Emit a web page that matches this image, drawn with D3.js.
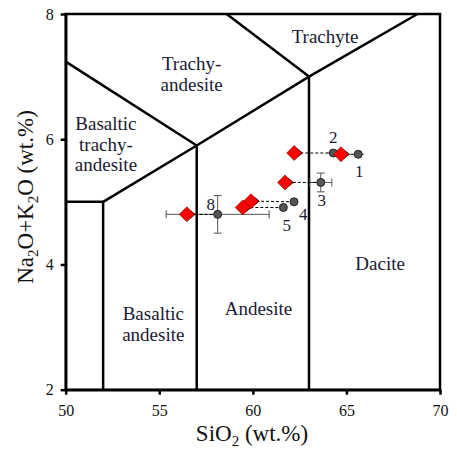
<!DOCTYPE html>
<html>
<head>
<meta charset="utf-8">
<script src="https://cdn.jsdelivr.net/npm/d3@7"></script>
<style>
	body { margin: 0; background: #fff; }
	text { font-family: 'Liberation Serif', 'Times New Roman', serif; }
</style>
</head>
<body>
<svg id="chart"></svg>
<script>
// ticks
const sio2Ticks = [50, 55, 60, 65, 70];
const alkTicks = [2, 4, 6, 8];

// samples: grey = before, red diamond = after
const sampleIds = ['1', '2', '3', '4', '5', '8'];
const sio2Before = [65.63, 64.30, 63.63, 62.20, 61.63, 58.12];
const alkBefore  = [5.76, 5.78, 5.31, 5.00, 4.91, 4.80];
const sio2After  = [64.71, 62.21, 61.72, 59.90, 59.46, 56.47];
const alkAfter   = [5.76, 5.78, 5.31, 5.01, 4.91, 4.80];
const sio2Err    = [0.3, 0.3, 0.59, 0, 0, 2.75];
const alkErr     = [0, 0, 0.15, 0, 0, 0.30];

// TAS field boundaries (SiO2, Na2O+K2O)
const boundaries = [
	[[50, 5], [52, 5], [52, 2]],
	[[52, 5], [57, 5.9], [63, 7], [68.8, 8]],
	[[50, 7.24], [57, 5.9]],
	[[58.6, 8], [63, 7]],
	[[57, 5.9], [57, 2]],
	[[63, 7], [63, 2]]
];

// field names, one line per entry
const fieldNames = [
	['Trachyte'],
	['Trachy-', 'andesite'],
	['Basaltic', 'trachy-', 'andesite'],
	['Basaltic', 'andesite'],
	['Andesite'],
	['Dacite']
];
const fieldSio2 = [63.86, 56.73, 52.15, 54.68, 60.3, 66.8];
const fieldAlk  = [7.54, 7.10, 6.14, 3.11, 3.19, 3.91];

const width = 457, height = 451;
const ink = '#1a1a33';

const svg = d3.select('#chart')
	.attr('width', width)
	.attr('height', height);

const x = d3.scaleLinear().domain([50, 70]).range([65.7, 440]);
const y = d3.scaleLinear().domain([2, 8]).range([389.7, 14]);

// frame
svg.append('rect')
	.attr('x', x(50)).attr('y', y(8))
	.attr('width', x(70) - x(50)).attr('height', y(2) - y(8))
	.attr('fill', 'none').attr('stroke', '#000').attr('stroke-width', 2.5);

// axes
const axisX = svg.append('g')
	.attr('transform', `translate(0,${y(2)})`)
	.call(d3.axisBottom(x).tickValues(sio2Ticks).tickSize(5).tickPadding(10).tickSizeOuter(0));
const axisY = svg.append('g')
	.attr('transform', `translate(${x(50)},0)`)
	.call(d3.axisLeft(y).tickValues(alkTicks).tickFormat(d3.format('d')).tickSize(5).tickPadding(7).tickSizeOuter(0));

[axisX, axisY].forEach(a => {
	a.select('.domain').attr('stroke-width', 2.5);
	a.selectAll('.tick line').attr('stroke-width', 2.5);
	a.selectAll('text')
		.attr('font-size', 16)
		.attr('fill', '#111');
});

// boundaries
const line = d3.line().x(d => x(d[0])).y(d => y(d[1]));
svg.append('g')
	.selectAll('path')
	.data(boundaries)
	.enter()
	.append('path')
	.attr('d', line)
	.attr('fill', 'none')
	.attr('stroke', '#000')
	.attr('stroke-width', 2.5)
	.attr('stroke-linejoin', 'miter');

// field names
const names = svg.append('g')
	.selectAll('text')
	.data(fieldNames)
	.enter()
	.append('text')
	.attr('text-anchor', 'middle')
	.attr('font-size', 19)
	.attr('fill', ink)
	.attr('transform', (d, i) => `translate(${x(fieldSio2[i])},${y(fieldAlk[i])})`);
names.selectAll('tspan')
	.data(d => d)
	.enter()
	.append('tspan')
	.attr('x', 0)
	.attr('dy', (d, i) => i === 0 ? 0 : 20.5)
	.text(d => d);

// arrow marker
svg.append('defs').append('marker')
	.attr('id', 'chev')
	.attr('viewBox', '-1 -5 8 10')
	.attr('refX', 0).attr('refY', 0)
	.attr('markerWidth', 8).attr('markerHeight', 10)
	.attr('markerUnits', 'userSpaceOnUse')
	.attr('orient', 'auto-start-reverse')
	.append('path')
	.attr('d', 'M5,-4L0,0L5,4')
	.attr('fill', 'none')
	.attr('stroke', '#000')
	.attr('stroke-width', 1.1);

const idx = d3.range(sampleIds.length);

// error bars
const err = svg.append('g').attr('stroke', '#555').attr('stroke-width', 1);
idx.forEach(i => {
	const cx = x(sio2Before[i]), cy = y(alkBefore[i]);
	if (sio2Err[i] > 0) {
		const x0 = x(sio2Before[i] - sio2Err[i]), x1 = x(sio2Before[i] + sio2Err[i]);
		err.append('line').attr('x1', x0).attr('x2', x1).attr('y1', cy).attr('y2', cy);
		if (sio2Err[i] > 0.4) {
			err.append('line').attr('x1', x0).attr('x2', x0).attr('y1', cy - 4).attr('y2', cy + 4);
			err.append('line').attr('x1', x1).attr('x2', x1).attr('y1', cy - 4).attr('y2', cy + 4);
		}
	}
	if (alkErr[i] > 0) {
		const y0 = y(alkBefore[i] - alkErr[i]), y1 = y(alkBefore[i] + alkErr[i]);
		err.append('line').attr('x1', cx).attr('x2', cx).attr('y1', y0).attr('y2', y1);
		err.append('line').attr('x1', cx - 4).attr('x2', cx + 4).attr('y1', y0).attr('y2', y0);
		err.append('line').attr('x1', cx - 4).attr('x2', cx + 4).attr('y1', y1).attr('y2', y1);
	}
});

// dashed arrows from grey to red
svg.append('g')
	.selectAll('line')
	.data(idx)
	.enter()
	.append('line')
	.attr('x1', i => x(sio2Before[i]))
	.attr('y1', i => y(alkBefore[i]))
	.attr('x2', i => x(sio2After[i]) + 8)
	.attr('y2', i => y(alkAfter[i]))
	.attr('stroke', '#000')
	.attr('stroke-width', 1)
	.attr('stroke-dasharray', '3,2')
	.attr('marker-end', 'url(#chev)');

// grey points
svg.append('g')
	.selectAll('circle')
	.data(idx)
	.enter()
	.append('circle')
	.attr('cx', i => x(sio2Before[i]))
	.attr('cy', i => y(alkBefore[i]))
	.attr('r', 4)
	.attr('fill', '#555')
	.attr('stroke', '#222')
	.attr('stroke-width', 1);

// red diamonds
svg.append('g')
	.selectAll('path')
	.data(idx)
	.enter()
	.append('path')
	.attr('d', 'M0,-7.5L7.5,0L0,7.5L-7.5,0Z')
	.attr('transform', i => `translate(${x(sio2After[i])},${y(alkAfter[i])})`)
	.attr('fill', '#ff0000')
	.attr('stroke', '#600')
	.attr('stroke-width', 0.6);

// sample numbers
const idDx = [1, 0, 1, 9.3, 3.4, -7];
const idDy = [23, -10, 24, 18, 24, -4.3];
svg.append('g')
	.selectAll('text')
	.data(idx)
	.enter()
	.append('text')
	.attr('x', i => x(sio2Before[i]) + idDx[i])
	.attr('y', i => y(alkBefore[i]) + idDy[i])
	.attr('text-anchor', 'middle')
	.attr('font-size', 17)
	.attr('fill', ink)
	.text(i => sampleIds[i]);

// axis titles
const xt = svg.append('text')
	.attr('x', 252).attr('y', 441)
	.attr('text-anchor', 'middle')
	.attr('font-size', 23)
	.attr('fill', '#111');
xt.append('tspan').text('SiO');
xt.append('tspan').attr('font-size', 15).attr('dy', 5).text('2');
xt.append('tspan').attr('dy', -5).text(' (wt.%)');

const yt = svg.append('text')
	.attr('transform', 'translate(33,197) rotate(-90)')
	.attr('text-anchor', 'middle')
	.attr('font-size', 23)
	.attr('fill', '#111');
yt.append('tspan').text('Na');
yt.append('tspan').attr('font-size', 15).attr('dy', 5).text('2');
yt.append('tspan').attr('dy', -5).text('O+K');
yt.append('tspan').attr('font-size', 15).attr('dy', 5).text('2');
yt.append('tspan').attr('dy', -5).text('O (wt.%)');
</script>
</body>
</html>
